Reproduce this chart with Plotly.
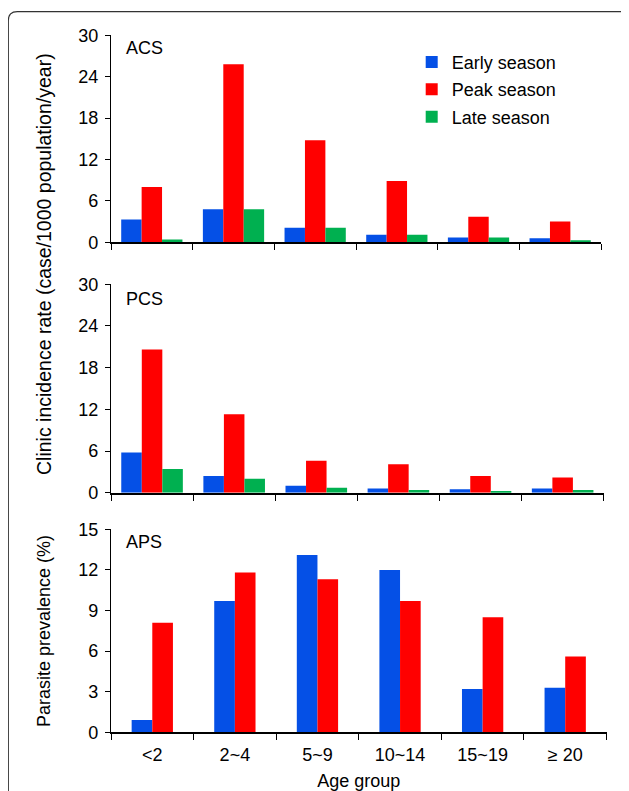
import plotly.graph_objects as go

# ---------------- data ----------------
categories = ["<2", "2~4", "5~9", "10~14", "15~19", "≥ 20"]

acs_early = [3.3, 4.8, 2.1, 1.1, 0.7, 0.6]
acs_peak = [8.0, 25.8, 14.8, 8.9, 3.7, 3.0]
acs_late = [0.4, 4.8, 2.1, 1.1, 0.7, 0.25]

pcs_early = [5.8, 2.4, 1.0, 0.6, 0.5, 0.6]
pcs_peak = [20.6, 11.3, 4.6, 4.1, 2.4, 2.2]
pcs_late = [3.4, 2.0, 0.7, 0.4, 0.25, 0.4]

aps_early = [0.9, 9.7, 13.1, 12.0, 3.2, 3.3]
aps_peak = [8.1, 11.8, 11.3, 9.7, 8.5, 5.6]

series_names = ["Early season", "Peak season", "Late season"]
panel_labels = ["ACS", "PCS", "APS"]
incidence_ticks = [0, 6, 12, 18, 24, 30]
prevalence_ticks = [0, 3, 6, 9, 12, 15]

# ---------------- style ----------------
OFF = 8  # page body margin
W, H = 629 - OFF, 791 - OFF
BLUE, RED, GREEN = "#0550E6", "#FF0000", "#00B050"
FONT = "Liberation Sans, Arial, Helvetica, sans-serif"
FS = 18
BW = 0.25


def px_x(s):
    return (s - OFF) / W


def px_y(s):
    return 1 - (s - OFF) / H


fig = go.Figure()


def add_bar(y, name, color, xa, ya, offset, show):
    fig.add_trace(go.Bar(
        x=categories, y=y, name=name, marker=dict(color=color, line=dict(width=0)),
        xaxis=xa, yaxis=ya, width=BW, offset=offset,
        showlegend=show, legendgroup=name,
    ))


add_bar(acs_early, series_names[0], BLUE, "x", "y", -0.375, True)
add_bar(acs_peak, series_names[1], RED, "x", "y", -0.125, True)
add_bar(acs_late, series_names[2], GREEN, "x", "y", 0.125, True)

add_bar(pcs_early, series_names[0], BLUE, "x2", "y2", -0.375, False)
add_bar(pcs_peak, series_names[1], RED, "x2", "y2", -0.125, False)
add_bar(pcs_late, series_names[2], GREEN, "x2", "y2", 0.125, False)

add_bar(aps_early, series_names[0], BLUE, "x3", "y3", -0.25, False)
add_bar(aps_peak, series_names[1], RED, "x3", "y3", 0.0, False)

x_left = 111
x_rights = [601, 603.7, 606.5]
y_spans = [(35.3, 242.3), (284.3, 492.7), (529.3, 732.3)]

xcommon = dict(
    type="category", categoryorder="array", categoryarray=categories,
    showline=True, linecolor="black", linewidth=2,
    ticks="outside", tickson="boundaries", ticklen=6, tickwidth=1.3, tickcolor="black",
    showgrid=False, zeroline=False, fixedrange=True, automargin=False,
    tickfont=dict(family=FONT, size=FS, color="black"),
    ticklabelstandoff=5,
)
ycommon = dict(
    showline=True, linecolor="black", linewidth=1.3,
    ticks="outside", ticklen=5, tickwidth=1.3, tickcolor="black",
    showgrid=False, zeroline=False, fixedrange=True, automargin=False,
    tickfont=dict(family=FONT, size=FS, color="black"),
    ticklabelstandoff=3,
)

layout = dict(
    width=W, height=H,
    margin=dict(l=0, r=0, t=0, b=0, autoexpand=False),
    paper_bgcolor="white", plot_bgcolor="white",
    template="none",
    font=dict(family=FONT, size=FS, color="black"),
    barmode="overlay",
    showlegend=True,
    legend=dict(
        x=px_x(411.7), y=px_y(43.7), xanchor="left", yanchor="top",
        bgcolor="rgba(0,0,0,0)", borderwidth=0,
        font=dict(family=FONT, size=FS, color="black"),
        tracegroupgap=1, traceorder="grouped",
    ),
)

for i in range(3):
    sx = "" if i == 0 else str(i + 1)
    xd = dict(xcommon)
    xd.update(domain=[px_x(x_left), px_x(x_rights[i])], anchor="y" + sx,
              showticklabels=(i == 2))
    yd = dict(ycommon)
    top, bot = y_spans[i]
    yd.update(domain=[px_y(bot), px_y(top)], anchor="x" + sx)
    if i < 2:
        yd.update(range=[0, 30], tickvals=incidence_ticks)
    else:
        yd.update(range=[0, 15], tickvals=prevalence_ticks)
    layout["xaxis" + sx] = xd
    layout["yaxis" + sx] = yd

layout["xaxis3"]["title"] = dict(text="Age group", font=dict(family=FONT, size=FS), standoff=12)

fig.update_layout(**layout)

# panel labels
label_y = [48.3, 299.3, 542.3]
for lab, yy in zip(panel_labels, label_y):
    fig.add_annotation(text=lab, x=px_x(124), y=px_y(yy), xref="paper", yref="paper",
                       xanchor="left", yanchor="middle", showarrow=False,
                       font=dict(family=FONT, size=FS, color="black"))

# y titles
fig.add_annotation(text="Clinic incidence rate (case/1000 population/year)",
                   x=px_x(44), y=px_y(264), xref="paper", yref="paper",
                   xanchor="center", yanchor="middle", textangle=-90, showarrow=False,
                   font=dict(family=FONT, size=19.5, color="black"))
fig.add_annotation(text="Parasite prevalence (%)",
                   x=px_x(44), y=px_y(631), xref="paper", yref="paper",
                   xanchor="center", yanchor="middle", textangle=-90, showarrow=False,
                   font=dict(family=FONT, size=FS, color="black"))

# rounded frame
fx, fy, r = 8.3, 11.7, 9
path = (f"M {px_x(fx)},{px_y(H + 40)} L {px_x(fx)},{px_y(fy + r)} "
        f"Q {px_x(fx)},{px_y(fy)} {px_x(fx + r)},{px_y(fy)} L {px_x(W + 40)},{px_y(fy)}")
fig.add_shape(type="path", path=path, xref="paper", yref="paper",
              line=dict(color="#333333", width=1.2), layer="below")

fig.write_html("out.html")
